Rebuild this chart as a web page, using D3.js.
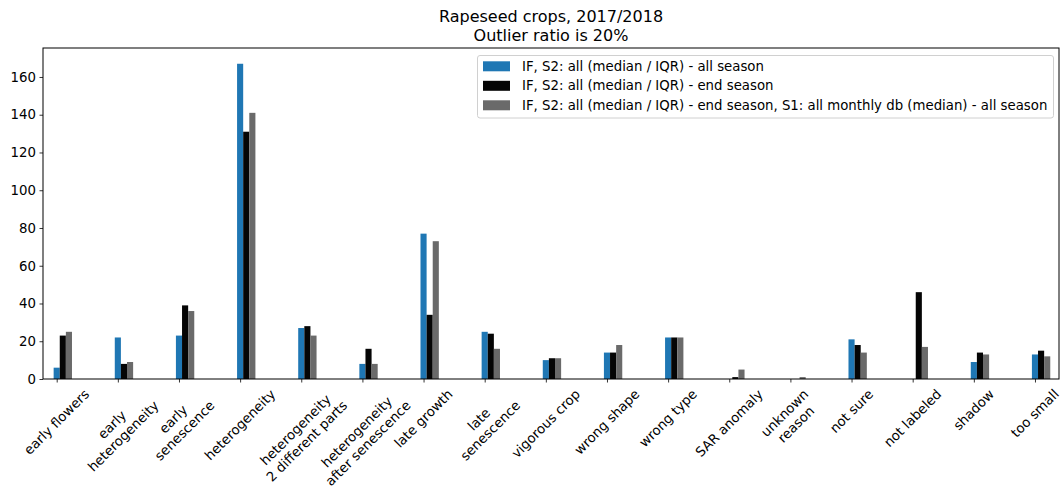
<!DOCTYPE html>
<html>
<head>
<meta charset="utf-8">
<script src="https://cdn.jsdelivr.net/npm/d3@7"></script>
<style>
  body { margin: 0; background: #fff; }
  svg text { font-family: "DejaVu Sans", sans-serif; fill: #000; }
</style>
</head>
<body>
<div id="chart"></div>
<script>
// categories (multi-line labels split with \n)
const categories = [
    "early flowers", "early\nheterogeneity", "early\nsenescence", "heterogeneity",
    "heterogeneity\n2 different parts", "heterogeneity\nafter senescence", "late growth",
    "late\nsenescence", "vigorous crop", "wrong shape", "wrong type", "SAR anomaly",
    "unknown\nreason", "not sure", "not labeled", "shadow", "too small"
];
// series values
const allSeason = [6, 22, 23, 167, 27, 8, 77, 25, 10, 14, 22, 0, 0, 21, 0, 9, 13];
const endSeason = [23, 8, 39, 131, 28, 16, 34, 24, 11, 14, 22, 1, 0, 18, 46, 14, 15];
const endSeasonS1 = [25, 9, 36, 141, 23, 8, 73, 16, 11, 18, 22, 5, 1, 14, 17, 13, 12];
const seriesNames = [
    "IF, S2: all (median / IQR) - all season",
    "IF, S2: all (median / IQR) - end season",
    "IF, S2: all (median / IQR) - end season, S1: all monthly db (median) - all season"
];
const seriesColors = ["#1f77b4", "#050505", "#6a6a6a"];
const yTicks = [0, 20, 40, 60, 80, 100, 120, 140, 160];

const width = 1063, height = 493;
const plot = { left: 43, right: 1059, top: 48, bottom: 379 };
const fs = 13.3; // tick / legend font size

const svg = d3.select("#chart").append("svg")
    .attr("width", width)
    .attr("height", height);

const x = d3.scaleLinear()
    .domain([-0.224, 16.393])
    .range([plot.left, plot.right]);
const y = d3.scaleLinear()
    .domain([0, d3.max(allSeason) * 1.05])
    .range([plot.bottom, plot.top]);

const barW = 0.1;
const series = [allSeason, endSeason, endSeasonS1];

// bars
series.forEach((vals, s) => {
    svg.append("g").selectAll("rect")
        .data(vals)
        .join("rect")
        .attr("x", (d, i) => x(i + s * barW - barW / 2))
        .attr("width", (d, i) => x(i + s * barW + barW / 2) - x(i + s * barW - barW / 2))
        .attr("y", d => y(d))
        .attr("height", d => y(0) - y(d))
        .attr("fill", seriesColors[s]);
});

// y axis
const yAxis = svg.append("g")
    .attr("transform", `translate(${plot.left},0)`)
    .call(d3.axisLeft(y).tickValues(yTicks).tickSize(3.5).tickPadding(3.5));
yAxis.select(".domain").remove();
yAxis.selectAll("text").style("font-size", fs + "px").attr("font-family", "DejaVu Sans");
yAxis.selectAll("line").attr("stroke", "#000").attr("stroke-width", 0.8);

// x axis ticks
const xAxis = svg.append("g")
    .attr("transform", `translate(0,${plot.bottom})`)
    .call(d3.axisBottom(x).tickValues(d3.range(categories.length)).tickSize(3.5).tickFormat(""));
xAxis.select(".domain").remove();
xAxis.selectAll("line").attr("stroke", "#000").attr("stroke-width", 0.8);

// rotated multi-line x labels, bbox centred under tick (like ha='center', rotation=45)
const svgRect = svg.node().getBoundingClientRect();
const labelTop = plot.bottom + 7.5;
categories.forEach((c, i) => {
    const outer = svg.append("g");
    const inner = outer.append("g").attr("transform", "rotate(-45)");
    const lines = c.split("\n");
    const t = inner.append("text")
        .attr("text-anchor", "middle")
        .style("font-size", fs + "px");
    lines.forEach((ln, k) => {
        t.append("tspan").attr("x", 0).attr("y", k * fs * 1.2).text(ln);
    });
    outer.attr("transform", `translate(${x(i)},${labelTop})`);
    const r = t.node().getBoundingClientRect();
    const cx = (r.left + r.right) / 2 - svgRect.left;
    const top = r.top - svgRect.top;
    outer.attr("transform", `translate(${x(i) + (x(i) - cx)},${labelTop + (labelTop - top)})`);
});

// frame
svg.append("rect")
    .attr("x", plot.left).attr("y", plot.top)
    .attr("width", plot.right - plot.left).attr("height", plot.bottom - plot.top)
    .attr("fill", "none").attr("stroke", "#000").attr("stroke-width", 1);

// title
const title = svg.append("text")
    .attr("text-anchor", "middle")
    .style("font-size", "16px");
title.append("tspan").attr("x", (plot.left + plot.right) / 2).attr("y", 22).text("Rapeseed crops, 2017/2018");
title.append("tspan").attr("x", (plot.left + plot.right) / 2).attr("y", 40.5).text("Outlier ratio is 20%");

// legend
const legend = svg.append("g");
legend.append("rect")
    .attr("x", 477.5).attr("y", 55.5)
    .attr("width", 576).attr("height", 62.5)
    .attr("rx", 2.5)
    .attr("fill", "#fff").attr("fill-opacity", 0.8)
    .attr("stroke", "#d0d0d0").attr("stroke-width", 1);
seriesNames.forEach((name, s) => {
    const cy = 66.3 + s * 19.5;
    legend.append("rect")
        .attr("x", 483).attr("y", cy - 5)
        .attr("width", 27).attr("height", 10)
        .attr("fill", seriesColors[s]);
    legend.append("text")
        .attr("x", 522).attr("y", cy)
        .attr("dy", "0.35em")
        .style("font-size", fs + "px")
        .text(name);
});
</script>
</body>
</html>
